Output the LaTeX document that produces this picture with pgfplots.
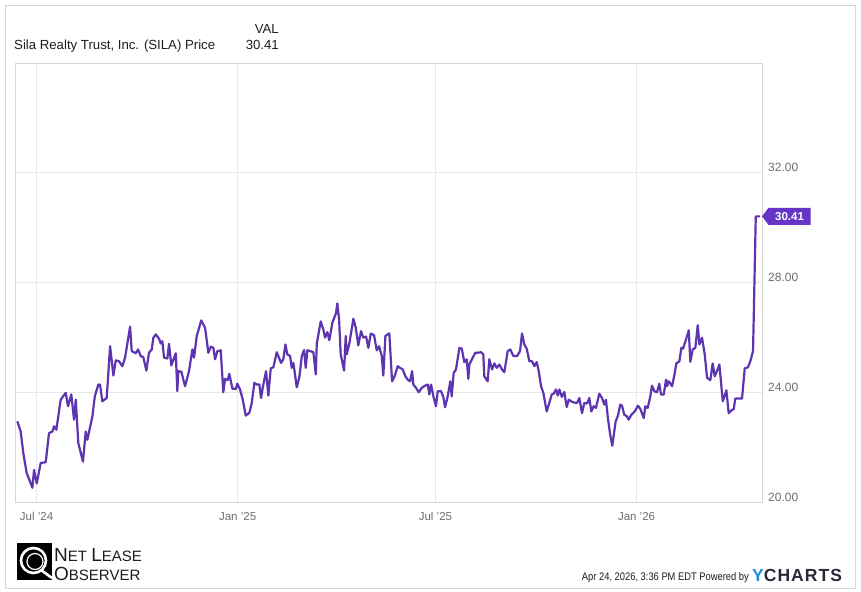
\documentclass[border=0pt]{standalone}
\usepackage{pgfplots}
\pgfplotsset{compat=1.18}
\usepackage{fontspec}
\setmainfont{Liberation Sans}
\newfontfamily\condfont[FakeStretch=0.85]{Liberation Sans}
\newfontfamily\ychfont[LetterSpace=6]{Liberation Sans}
\definecolor{linec}{RGB}{94,53,177}
\definecolor{flagc}{RGB}{103,52,200}
\definecolor{gridc}{RGB}{232,232,232}
\definecolor{framec}{RGB}{214,214,214}
\definecolor{tickc}{RGB}{110,110,110}
\definecolor{txtc}{RGB}{30,30,30}
\definecolor{ychblue}{RGB}{30,140,215}
\definecolor{ychdark}{RGB}{40,40,55}
\begin{document}
\begin{tikzpicture}
\useasboundingbox (0pt,0pt) rectangle (861pt,-591pt);
\fill[white] (0pt,0pt) rectangle (861pt,-591pt);
\draw[framec, line width=1pt] (5.5pt,-5.5pt) rectangle (855.5pt,-588pt);
\begin{axis}[
  at={(16pt,-502pt)}, anchor=south west,
  width=746pt, height=439pt, scale only axis,
  xmin=-18.8, xmax=663.8, ymin=20, ymax=36,
  xtick={0,184,365,549},
  xticklabels={Jul '24, Jan '25, Jul '25, Jan '26},
  ytick={20,24,28,32},
  yticklabels={20.00,24.00,28.00,32.00},
  yticklabel pos=right,
  major tick length=0pt,
  grid=major,
  major grid style={draw=gridc, line width=0.9pt},
  axis line style={draw=framec, line width=1pt},
  xticklabel style={anchor=base, inner sep=0pt, yshift=-18pt, text=tickc, font=\fontsize{11.5}{13}\selectfont},
  yticklabel style={anchor=base west, inner sep=0pt, xshift=6pt, yshift=0.8pt, text=tickc, font=\fontsize{12}{14}\selectfont},
  clip=false,
]
\addplot[linec, line width=2.2pt, line join=round, mark=none] coordinates {
(-17.6,22.94) (-14.5,22.57) (-12.1,21.78) (-9.0,21.05) (-5.9,20.74) (-3.8,20.52) (-2.3,21.17) (0.2,20.68)
(3.8,21.42) (8.4,21.45) (11.4,22.51) (14.5,22.57) (16.0,22.76) (18.1,22.63) (22.1,23.73) (26.7,23.98)
(28.8,23.49) (31.8,23.92) (34.3,23.00) (35.9,23.73) (38.2,22.15) (42.5,21.47) (45.0,22.57) (46.5,22.27)
(51.1,23.12) (53.3,23.85) (56.5,24.28) (58.1,24.28) (60.2,23.67) (64.2,23.79) (67.3,25.68) (70.3,24.61)
(72.5,25.16) (75.5,25.13) (78.5,24.95) (81.0,25.26) (85.6,26.39) (87.1,25.50) (90.8,25.42) (92.9,25.56)
(95.3,25.32) (97.7,25.28) (100.5,24.79) (102.9,25.44) (105.4,25.56) (106.9,25.99) (109.1,26.11) (112.1,25.95)
(113.6,25.78) (115.1,25.86) (116.7,25.26) (119.7,25.23) (121.2,25.77) (123.3,24.98) (127.4,25.42) (128.8,24.04)
(129.7,24.77) (132.5,24.75) (135.9,24.22) (139.5,24.77) (142.6,25.56) (144.1,25.26) (146.6,26.05) (150.7,26.62)
(154.2,26.35) (157.2,25.44) (159.4,25.66) (161.8,25.62) (163.3,25.20) (165.5,25.50) (168.5,25.53) (170.9,24.00)
(172.5,24.49) (174.9,24.44) (176.4,24.67) (179.2,24.13) (182.3,24.12) (183.7,24.31) (186.2,24.10) (188.7,23.73)
(191.4,23.15) (194.7,23.25) (196.9,23.61) (199.3,24.34) (201.5,24.28) (203.9,24.28) (205.4,23.79) (207.5,24.28)
(210.0,24.77) (212.1,23.88) (214.3,24.87) (216.7,24.91) (219.8,25.46) (223.7,25.07) (225.8,25.20) (227.7,25.74)
(229.5,25.38) (232.0,25.32) (233.5,24.89) (235.0,25.07) (238.1,24.18) (240.5,24.56) (242.7,25.32) (244.8,25.54)
(246.3,24.89) (247.8,25.53) (250.3,25.50) (253.3,25.46) (255.5,24.65) (256.4,25.77) (260.0,26.58) (262.4,26.29)
(264.0,25.99) (266.1,26.19) (267.9,25.90) (270.7,26.54) (274.0,26.88) (275.2,27.24) (276.8,26.66) (278.3,25.38)
(281.4,24.79) (282.9,26.05) (283.8,25.38) (286.2,25.77) (289.9,26.68) (292.1,26.35) (294.4,25.71) (296.9,26.23)
(299.0,25.99) (301.5,26.03) (303.6,25.62) (305.8,26.14) (308.8,26.08) (311.3,25.53) (313.4,25.68) (315.9,25.32)
(317.3,24.61) (319.2,26.05) (322.8,26.15) (325.3,24.40) (327.4,24.56) (330.5,24.95) (332.6,24.89) (335.1,24.83)
(337.5,24.58) (339.6,24.46) (341.8,24.40) (343.6,24.77) (344.8,24.28) (347.2,24.16) (349.7,24.00) (352.5,24.16)
(355.5,24.24) (358.0,24.28) (359.4,23.92) (361.0,24.28) (363.1,23.85) (365.5,23.49) (367.1,24.04) (370.1,24.04)
(372.2,23.83) (373.8,23.45) (376.2,23.85) (378.6,24.40) (379.9,23.85) (381.7,24.71) (383.8,24.83) (386.9,25.62)
(389.1,25.59) (391.4,25.10) (393.6,25.20) (395.1,24.49) (396.0,25.01) (399.1,25.26) (401.5,25.44) (403.7,25.44)
(406.7,25.46) (408.8,25.38) (409.7,24.58) (412.8,24.40) (414.3,25.20) (416.8,24.83) (418.9,25.05) (421.1,24.89)
(423.5,25.01) (425.9,24.83) (428.0,24.73) (431.1,25.50) (433.5,25.56) (436.3,25.32) (439.7,25.32) (442.4,25.50)
(444.2,26.14) (446.3,25.74) (448.5,25.59) (450.9,25.13) (453.4,25.13) (455.5,24.95) (457.7,25.10) (459.5,24.77)
(461.6,24.22) (463.7,23.98) (466.8,23.30) (469.2,23.61) (471.4,23.92) (473.2,23.95) (475.3,24.10) (476.9,23.88)
(478.4,24.10) (480.6,23.83) (482.9,24.01) (485.1,23.46) (487.0,23.73) (489.1,23.67) (491.5,23.63) (494.6,23.61)
(496.7,23.79) (499.1,23.24) (501.2,23.61) (503.7,23.59) (505.8,23.79) (507.6,23.30) (509.8,23.49) (511.9,23.43)
(514.9,23.95) (517.4,23.79) (519.5,23.55) (521.0,23.73) (522.8,23.06) (524.7,22.50) (526.8,22.05) (529.9,22.94)
(532.0,23.15) (534.1,23.55) (535.7,23.51) (537.8,23.18) (540.3,23.12) (541.8,23.00) (544.2,23.18) (547.3,23.30)
(550.3,23.51) (552.5,23.39) (555.6,23.06) (557.0,23.49) (559.2,23.43) (561.6,23.85) (563.1,24.24) (565.3,24.04)
(567.7,24.00) (569.8,24.31) (571.4,23.92) (573.9,23.92) (576.0,24.46) (576.9,24.22) (578.5,24.40) (581.5,24.22)
(583.6,24.62) (585.4,25.05) (588.2,25.13) (590.0,25.62) (591.6,25.59) (594.3,25.93) (596.8,26.26) (598.2,25.11)
(600.4,25.56) (602.8,25.62) (605.0,26.44) (606.5,25.74) (608.9,25.99) (611.4,25.38) (613.5,24.53) (616.5,24.44)
(618.7,25.05) (620.5,24.58) (622.6,24.77) (624.8,25.01) (627.9,23.67) (631.2,24.07) (633.3,23.24) (635.5,23.33)
(637.9,23.39) (639.4,23.77) (642.5,23.77) (645.5,23.77) (648.0,24.87) (651.0,24.91) (653.1,25.13) (655.6,25.50)
(658.1,30.41) (662.0,30.41)
};
\coordinate (flagtip) at (axis cs:663.8,30.41);
\end{axis}
% value flag
\fill[flagc] (flagtip) -- ++(6.5pt,8.5pt) -- ++(42pt,0pt) -- ++(0pt,-17pt) -- ++(-42pt,0pt) -- cycle;
\node[anchor=center, inner sep=0pt, text=white, font=\bfseries\fontsize{11.5}{13}\selectfont] at ([xshift=27.5pt]flagtip) {30.41};
% header
\node[anchor=base west, inner sep=0pt, text=txtc, font=\fontsize{13.2}{15}\selectfont] at (14pt,-49.3pt) {Sila Realty Trust, Inc. (SILA) Price};
\node[anchor=base east, inner sep=0pt, text=txtc, font=\fontsize{13.2}{15}\selectfont] at (279pt,-33.3pt) {VAL};
\node[anchor=base east, inner sep=0pt, text=txtc, font=\fontsize{13.2}{15}\selectfont] at (279pt,-49.3pt) {30.41};
% footer
\node[anchor=base east, inner sep=0pt, text=txtc, font=\condfont\fontsize{11}{13}\selectfont] at (749pt,-580.5pt) {Apr 24, 2026, 3:36 PM EDT Powered by};
\node[anchor=base west, inner sep=0pt, font=\ychfont\bfseries\fontsize{17.5}{19}\selectfont] at (752pt,-581pt) {\textcolor{ychblue}{Y}\textcolor{ychdark}{CHARTS}};
% logo
\fill[black] (17pt,-543pt) rectangle (52pt,-580pt);
\draw[white, line width=2.6pt] (33.5pt,-560.5pt) circle (12.5pt);
\draw[white, line width=1.2pt] (35pt,-561.5pt) circle (8pt);
\draw[white, line width=2.6pt] (41pt,-570pt) -- (52pt,-578pt);
\node[anchor=base west, inner sep=0pt, text=txtc] at (54pt,-561pt) {\fontsize{19}{19}\selectfont N\fontsize{15}{15}\selectfont ET \fontsize{19}{19}\selectfont L\fontsize{15}{15}\selectfont EASE};
\node[anchor=base west, inner sep=0pt, text=txtc] at (54pt,-580pt) {\fontsize{19}{19}\selectfont O\fontsize{15}{15}\selectfont BSERVER};
\end{tikzpicture}
\end{document}
